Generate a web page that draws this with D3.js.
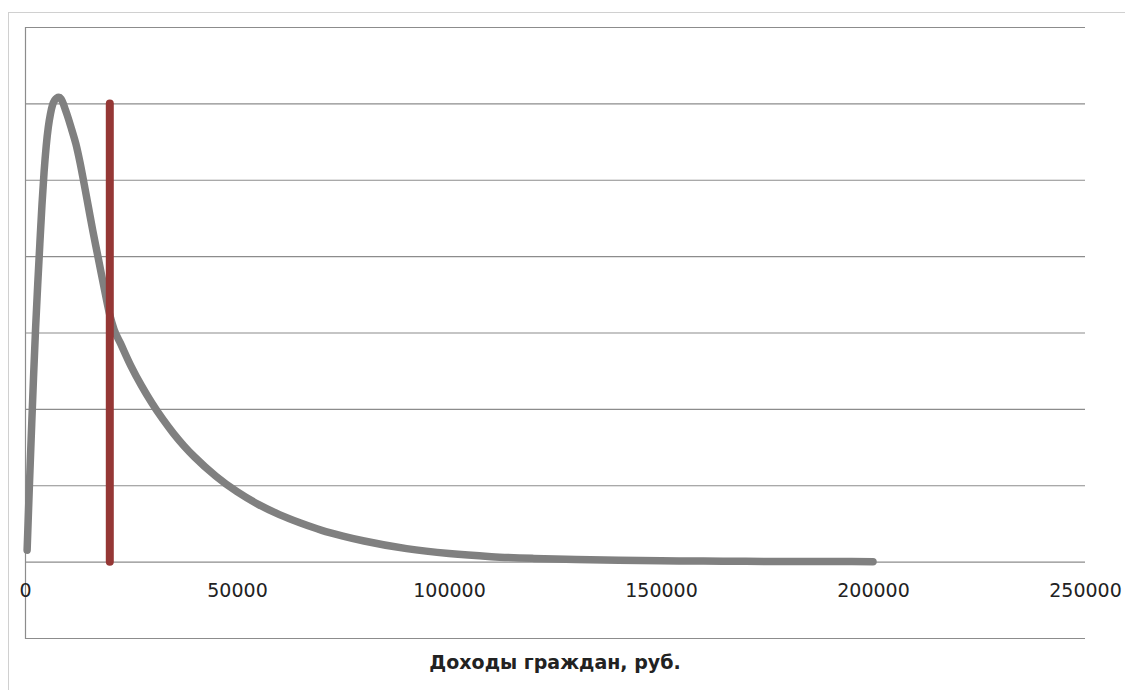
<!DOCTYPE html>
<html>
<head>
<meta charset="utf-8">
<script src="https://cdn.jsdelivr.net/npm/d3@7"></script>
<style>
  html, body { margin: 0; padding: 0; background: #ffffff; }
  svg { display: block; }
</style>
</head>
<body>
<svg id="chart" width="1125" height="690"></svg>
<script>
// ---- data ----
const income = [500, 1000, 1500, 2000, 2500, 3000, 3500, 4000, 4500, 5000, 5500, 6000, 6500, 7000, 7500,
  8000, 8500, 9000, 9500, 10000, 11000, 12000, 13000, 14000, 15000, 16000, 17000, 18000, 19000, 20000,
  21000, 22500, 25000, 27500, 30000, 32500, 35000, 37500, 40000, 45000, 50000,
  55000, 60000, 65000, 70000, 75000, 80000, 90000, 100000, 110000, 120000, 130000, 140000,
  150000, 160000, 170000, 180000, 190000, 200000];
const density = [0.15, 0.94, 1.68, 2.40, 3.06, 3.63, 4.16, 4.67, 5.10, 5.44, 5.69, 5.86, 5.98, 6.04, 6.07,
  6.08, 6.06, 6.00, 5.92, 5.84, 5.66, 5.47, 5.22, 4.93, 4.63, 4.33, 4.05, 3.77, 3.49, 3.23,
  3.04, 2.86, 2.56, 2.30, 2.07, 1.865, 1.68, 1.515, 1.37, 1.12, 0.915,
  0.75, 0.615, 0.505, 0.41, 0.335, 0.27, 0.17, 0.105, 0.065, 0.042, 0.027, 0.017,
  0.011, 0.007, 0.004, 0.002, 0.001, 0.0];
const markerX = [20000, 20000];
const markerY = [0, 6];
const xTicks = [0, 50000, 100000, 150000, 200000, 250000];
const yGrid = [-1, 0, 1, 2, 3, 4, 5, 6, 7];
const xTitle = "Доходы граждан, руб.";

// ---- layout ----
const svg = d3.select("#chart");
const plotL = 25, plotR = 1085, plotT = 27, plotB = 638;

const x = d3.scaleLinear().domain([0, 250000]).range([plotL, plotR]);
const y = d3.scaleLinear().domain([-1, 7]).range([plotB, plotT]);

// outer chart border
svg.append("rect")
  .attr("x", 8.5).attr("y", 12.5)
  .attr("width", 1300).attr("height", 800)
  .attr("fill", "none").attr("stroke", "#d0d0d0").attr("stroke-width", 1);

// horizontal gridlines + left axis line
const gy = svg.append("g")
  .attr("transform", `translate(${plotL},0)`)
  .call(d3.axisLeft(y).tickValues(yGrid).tickSize(-(plotR - plotL)).tickFormat(""));
gy.selectAll(".tick line").attr("stroke", "#8c8c8c").attr("stroke-width", 1.2);
gy.select(".domain").attr("stroke", "#8c8c8c").attr("stroke-width", 1.2);

// x tick labels (no tick marks)
const gx = svg.append("g")
  .attr("transform", `translate(0,${y(0)})`)
  .call(d3.axisBottom(x).tickValues(xTicks).tickSize(0).tickPadding(0).tickFormat(d3.format("d")));
gx.select(".domain").remove();
gx.selectAll("text")
  .attr("y", 35)
  .attr("dy", null)
  .attr("font-family", "DejaVu Sans, sans-serif")
  .attr("font-size", 19)
  .attr("fill", "#222");

// axis title
svg.append("text")
  .attr("x", (plotL + plotR) / 2)
  .attr("y", 669)
  .attr("text-anchor", "middle")
  .attr("font-family", "DejaVu Sans, sans-serif")
  .attr("font-weight", "bold")
  .attr("font-size", 19)
  .attr("fill", "#222")
  .text(xTitle);

// distribution curve
const pts = income.map((d, i) => [d, density[i]]);
svg.append("path")
  .datum(pts)
  .attr("fill", "none")
  .attr("stroke", "#808080")
  .attr("stroke-width", 7.5)
  .attr("stroke-linecap", "round")
  .attr("stroke-linejoin", "round")
  .attr("d", d3.line().x(d => x(d[0])).y(d => y(d[1])).curve(d3.curveMonotoneX));

// marker line
const mk = markerX.map((d, i) => [d, markerY[i]]);
svg.append("path")
  .datum(mk)
  .attr("fill", "none")
  .attr("stroke", "#953735")
  .attr("stroke-width", 8)
  .attr("stroke-linecap", "round")
  .attr("d", d3.line().x(d => x(d[0])).y(d => y(d[1])));
</script>
</body>
</html>
